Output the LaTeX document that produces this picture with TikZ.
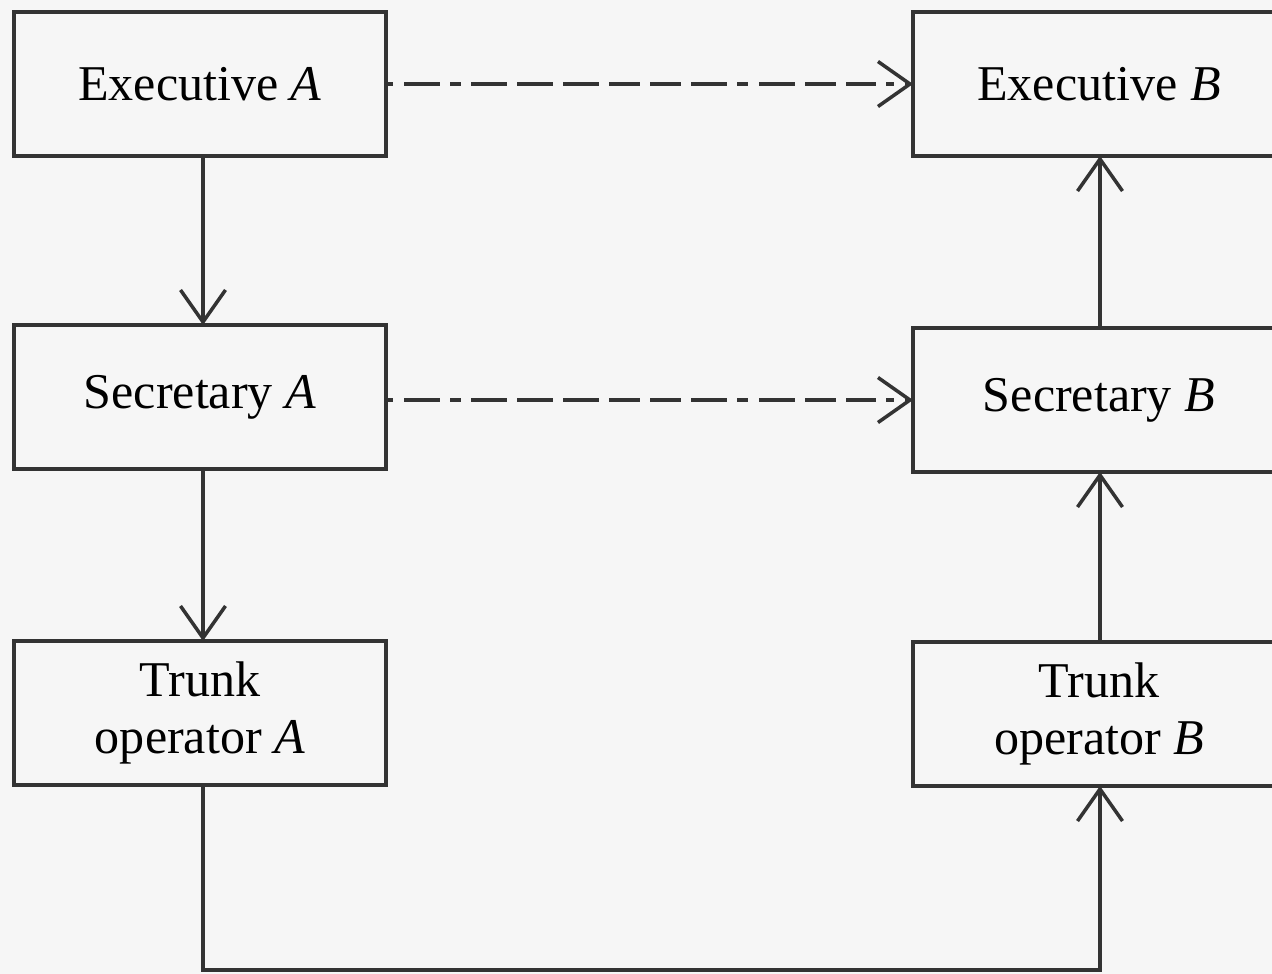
\documentclass[tikz,border=0pt]{standalone}
\usepackage{fontspec}
\setmainfont{Liberation Serif}
\usetikzlibrary{arrows.meta}
\begin{document}
\begin{tikzpicture}[x=0.02cm,y=-0.02cm,
  box/.style={draw=black!80, line width=2.7pt, minimum width=7.44cm, minimum height=2.88cm,
    inner sep=0pt, outer sep=0pt, align=center, font=\fontsize{28.5}{32}\selectfont},
  link/.style={draw=black!80, line width=2pt,
    -{Straight Barb[length=0.64cm, width=0.9cm, line width=2pt]}},
  dlink/.style={link, dash pattern=on 0.15cm off 0.22cm on 0.72cm off 0.2cm on 0.22cm off 0.2cm
    on 0.72cm off 0.2cm on 0.72cm off 0.2cm on 0.72cm off 0.2cm on 0.62cm off 0.2cm
    on 0.62cm off 0.2cm on 0.72cm off 0.2cm on 0.22cm off 0.22cm on 0.72cm off 0.2cm
    on 0.62cm off 0.2cm on 0.6cm off 0.2cm}
]
\fill[white!93!gray] (0,0) rectangle (1272,974);
\useasboundingbox (0,0) rectangle (1272,974);
\begin{scope}
\clip (0,0) rectangle (1272,974);
\node[box] (ea) at (200,84)  {Executive \textit{A}};
\node[box] (sa) at (200,397) {Secretary \textit{A}};
\node[box] (ta) at (200,713) {Trunk\\operator \textit{A}};
\node[box] (eb) at (1099,84)  {Executive \textit{B}};
\node[box] (sb) at (1099,400) {Secretary \textit{B}};
\node[box] (tb) at (1099,714) {Trunk\\operator \textit{B}};
\coordinate (c1) at (203,970);
\coordinate (c2) at (1100,970);

\draw[dlink] (ea.east) -- (eb.west);
\draw[dlink] (sa.east |- 0,400) -- (sb.west);
\draw[link] (ea.south -| 203,0) -- (sa.north -| 203,0);
\draw[link] (sa.south -| 203,0) -- (ta.north -| 203,0);
\draw[link] (sb.north -| 1100,0) -- (eb.south -| 1100,0);
\draw[link] (tb.north -| 1100,0) -- (sb.south -| 1100,0);
\draw[link] (ta.south -| 203,0) -- (c1) -- (c2) -- (tb.south -| 1100,0);
\end{scope}
\end{tikzpicture}
\end{document}
